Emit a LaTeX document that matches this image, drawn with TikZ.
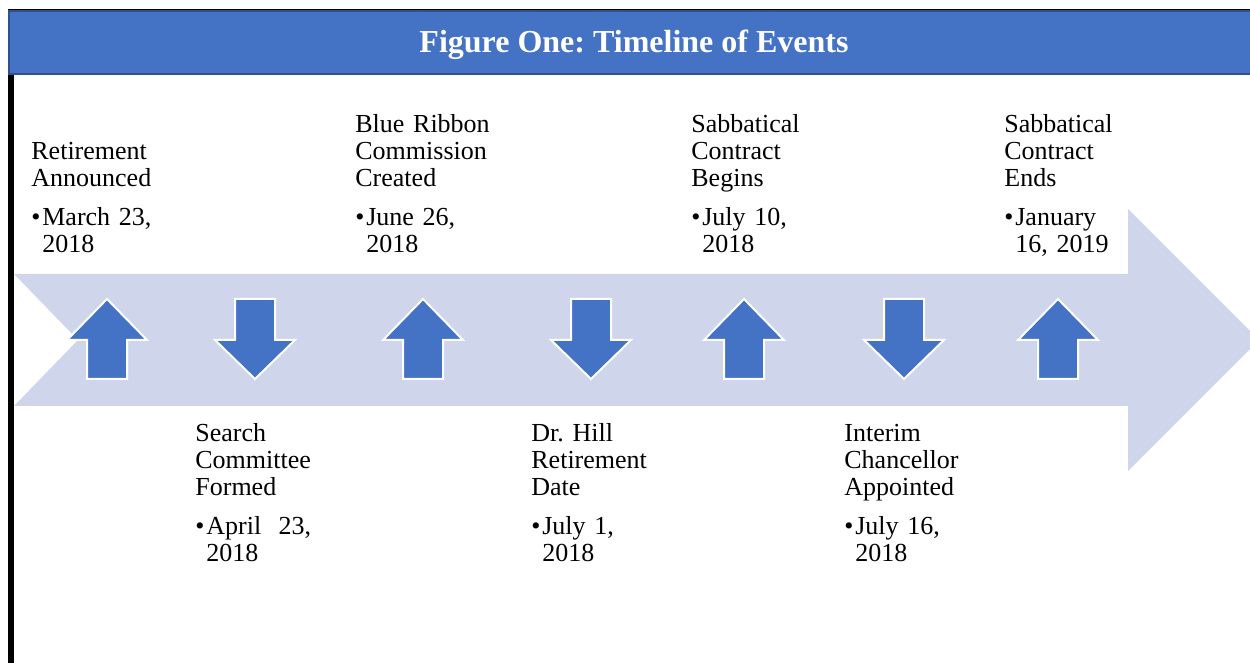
\documentclass[tikz,border=0pt]{standalone}
\usepackage{fontspec}
\setmainfont{Liberation Serif}
\frenchspacing

\definecolor{headerblue}{HTML}{4472C4}
\definecolor{headerdark}{HTML}{2F528F}
\definecolor{bandblue}{HTML}{CFD5EA}

% bullet with a hanging second line
\newcommand{\when}[2]{\makebox[5.5pt][l]{\textbullet}#1\\\hspace*{5.5pt}#2}

\begin{document}
\begin{tikzpicture}[x=0.5pt, y=-0.5pt,
    band/.style = {fill=bandblue},
    header/.style = {draw=headerdark, line width=1pt, fill=headerblue, minimum width=625.5pt, minimum height=31.5pt, text=white, text height=10.5pt, text depth=0pt, font=\fontsize{16pt}{19pt}\selectfont\bfseries},
    event/.style = {anchor=base west, inner sep=0pt, text width=80pt, align=left, font=\fontsize{13pt}{13.5pt}\selectfont},
    marker/.style = {fill=headerblue, draw=white, line width=1pt},
    uparrow/.pic = {\path[marker] (0,-40) -- (40,1) -- (20,1) -- (20,40) -- (-20,40) -- (-20,1) -- (-40,1) -- cycle;},
    downarrow/.pic = {\path[marker] (0,40) -- (40,1) -- (20,1) -- (20,-40) -- (-20,-40) -- (-20,1) -- (-40,1) -- cycle;}]

    \useasboundingbox (0,0) rectangle (1250,663);
    \clip (0,0) rectangle (1250,663);

    % big timeline arrow
    \fill[band] (14,274) -- (1128,274) -- (1128,209) -- (1259,340) -- (1128,471) -- (1128,406) -- (14,406) -- (78,340) -- cycle;

    % frame
    \fill (8,9) rectangle (14,663);
    \draw[line width=1pt] (8,10) -- (1250,10);

    % title bar
    \node[header] (banner) at (634,42.5) {Figure One: Timeline of Events};

    % markers
    \pic at (107,339) {uparrow};
    \pic at (255,339) {downarrow};
    \pic at (423,339) {uparrow};
    \pic at (591,339) {downarrow};
    \pic at (744,339) {uparrow};
    \pic at (904,339) {downarrow};
    \pic at (1058,339) {uparrow};

    % events above the band
    \node[event] (announced) at (31,160) {Retirement\\Announced\\[6pt]\when{March 23,}{2018}};
    \node[event] (commission) at (355,133) {Blue Ribbon\\Commission\\Created\\[6pt]\when{June 26,}{2018}};
    \node[event] (sabbatical) at (691,133) {Sabbatical\\Contract\\Begins\\[6pt]\when{July 10,}{2018}};
    \node[event] (sabbend) at (1004,133) {Sabbatical\\Contract\\Ends\\[6pt]\when{January}{16, 2019}};

    % events below the band
    \node[event] (search) at (195,442) {Search\\Committee\\Formed\\[6pt]\when{April\ \ 23,}{2018}};
    \node[event] (hill) at (531,442) {Dr. Hill\\Retirement\\Date\\[6pt]\when{July 1,}{2018}};
    \node[event] (interim) at (844,442) {Interim\\Chancellor\\Appointed\\[6pt]\when{July 16,}{2018}};

\end{tikzpicture}
\end{document}
